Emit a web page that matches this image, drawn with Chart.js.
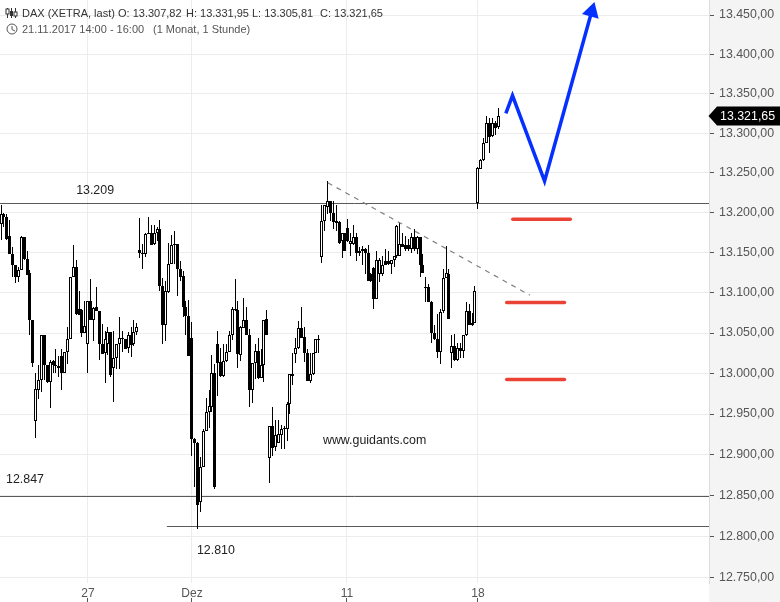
<!DOCTYPE html>
<html><head><meta charset="utf-8">
<style>html,body{margin:0;padding:0;background:#fff}#w{position:relative;width:780px;height:602px}</style>
<script src="https://cdn.jsdelivr.net/npm/chart.js@4/dist/chart.umd.min.js"></script>
</head><body><div id="w"><canvas id="c" width="780" height="602"></canvas></div>
<script>
const open=[13186,13198,13195,13171,13148,13135,13119,13128,13170,13142,13125,13066,12942,12980,12992,13047,13010,12990,13015,13011,13007,13022,13000,13027,13042,13120,13132,13080,13078,13050,13036,13090,13066,13082,13077,13037,13025,13036,13051,13007,13019,13037,13044,13042,13031,13048,13036,13051,
13153,13148,13148,13175,13175,13161,13175,13180,13108,13060,13101,13136,13159,13161,13130,13121,13082,13071,13044,12919,12915,12842,12885,12929,12952,12959,13000,13037,13014,12997,13015,13027,13047,13080,13078,13023,13056,13066,13047,12980,13013,13028,12994,13011,13067,
12896,12935,12909,12915,12924,12932,12932,12962,12999,13024,13032,13056,13045,13025,12991,12999,13025,13042,13145,13190,13207,13215,13200,13189,13188,13164,13175,13181,13161,13161,13170,13150,13152,13155,13150,13123,13131,13092,13123,13123,13139,13140,13136,13141,13146,
13146,13161,13160,13159,13154,13169,13154,13170,13135,13107,13107,13089,13050,13042,13027,13077,13118,13123,13025,13034,13016,13032,13028,13047,13077,13060,13062,13212,13255,13266,13287,13313,13296,13313,13307.82];
const high=[13209,13199,13198,13191,13157,13135,13132,13171,13170,13152,13128,13066,13001,13010,13048,13047,13011,13017,13017,13030,13021,13030,13027,13057,13120,13160,13141,13102,13080,13090,13090,13117,13082,13107,13077,13061,13052,13057,13051,13052,13037,13070,13052,13043,13051,13057,13066,13062,
13193,13161,13175,13195,13185,13184,13182,13191,13118,13114,13162,13172,13177,13161,13140,13127,13090,13091,13064,12921,12916,12897,12931,12970,12980,13023,13012,13052,13032,13036,13036,13053,13082,13117,13090,13059,13093,13082,13055,13013,13036,13044,13030,13066,13079,
12935,12959,12943,12943,12937,12935,12965,12999,13025,13044,13065,13082,13057,13030,13025,13025,13043,13048,13209,13209,13240,13215,13215,13209,13189,13175,13175,13192,13175,13184,13175,13157,13158,13156,13159,13125,13132,13152,13143,13146,13155,13152,13141,13146,13184,
13188,13175,13171,13167,13174,13180,13171,13170,13148,13120,13111,13090,13060,13073,13080,13130,13158,13130,13047,13049,13038,13038,13048,13089,13086,13075,13108,13257,13267,13294,13322,13319,13319,13315,13331.95];
const low=[13166,13182,13166,13148,13119,13112,13113,13128,13141,13122,13048,13008,12921,12968,12977,12992,12988,12958,13001,13000,12995,12980,13000,13012,13042,13120,13072,13073,13045,13050,13001,13066,13040,13077,13017,13024,12988,13023,12996,12965,13005,13005,13027,13030,13025,13020,13034,13047,
13143,13130,13144,13173,13159,13160,13165,13102,13037,13040,13100,13136,13136,13096,13115,13070,13047,13021,12898,12860,12810,12830,12885,12929,12933,12953,12858,12972,12996,12996,13014,13027,13041,13077,13007,13015,13056,13047,12959,12964,12993,12993,12994,12990,13047,
12865,12899,12905,12915,12907,12907,12917,12950,12986,13013,13030,13044,13014,12991,12988,12998,13025,13025,13137,13177,13198,13190,13180,13177,13161,13143,13152,13163,13146,13159,13140,13146,13134,13123,13114,13113,13080,13092,13113,13121,13134,13134,13123,13132,13143,
13146,13157,13152,13152,13150,13152,13148,13120,13124,13088,13090,13038,13041,13019,13012,13075,13118,13067,13007,13015,13015,13019,13019,13046,13060,13059,13062,13205,13255,13265,13287,13275,13295,13298,13305.81];
const close=[13198,13194,13167,13148,13135,13119,13128,13170,13142,13122,13066,13013,12981,12992,13047,13011,12989,13014,13010,13009,13009,13000,13027,13042,13119,13132,13073,13072,13050,13059,13090,13066,13081,13077,13037,13024,13042,13051,12998,13019,13037,13044,13042,13030,13048,13035,13051,13058,
13149,13150,13173,13173,13160,13175,13180,13108,13060,13102,13136,13160,13161,13130,13120,13082,13071,13021,12919,12915,12839,12885,12929,12952,12960,13000,12860,13013,12997,13015,13027,13047,13080,13079,13024,13057,13066,13047,12980,13013,13028,12994,13011,13066,13047,
12935,12908,12924,12925,12932,12933,12962,12999,12997,13032,13056,13044,13025,12991,12999,13025,13043,13043,13190,13209,13215,13200,13188,13187,13162,13175,13152,13164,13164,13170,13150,13152,13155,13150,13114,13114,13092,13141,13141,13134,13134,13136,13141,13146,13183,
13161,13157,13155,13154,13169,13154,13170,13135,13125,13106,13089,13050,13042,13027,13076,13118,13124,13067,13034,13016,13032,13028,13047,13077,13060,13062,13102,13256,13266,13287,13313,13295,13313,13306,13321.65];

const yTicks=[13450,13400,13350,13300,13250,13200,13150,13100,13050,13000,12950,12900,12850,12800,12750];
const xTickIdx=[30.1,66.09,119.72,165.05];
const xTickLabels=['27','Dez','11','18'];
const levelA=[[-0.35,13211],[245,13211]];
const levelB=[[-0.35,12849],[245,12849]];
const levelC=[[57.4,12812],[245,12812]];
const trendLine=[[113.1,13237.5],[183,13097]];
const arrowPath=[[174.7,13325],[177,13347.6],[188.1,13239.7],[204.4,13454.5]];
const redA=[[177.1,13191.6],[197,13191.6]];
const redB=[[175,13088],[195,13088]];
const redC=[[175,12992.6],[195,12992.6]];
const noteTexts=['13.209','12.847','12.810','www.guidants.com'];
const noteIdx=[26,1.73,67.8,111.4];
const notePrice=[13227.5,12869.5,12783,12918];
const lastPrice=13321.65;
const lastLabel='13.321,65';
const headA=['DAX (XETRA, last)','O: 13.307,82','H: 13.331,95','L: 13.305,81','C: 13.321,65'];
const headB=['21.11.2017 14:00 - 16:00','(1 Monat, 1 Stunde)'];

const FONT='"Liberation Sans", Arial, sans-serif';
const xy=a=>a.map(p=>({x:p[0],y:p[1]}));
const fmt=v=>{const s=String(Math.round(v));return s.slice(0,2)+'.'+s.slice(2)+',00';};
const flat=(d,col,w,extra)=>Object.assign({type:'line',data:xy(d),borderColor:col,borderWidth:w,pointRadius:0,fill:false,tension:0,order:1},extra||{});
const noPad=s=>{s.paddingTop=0;s.paddingBottom=0;s.paddingLeft=0;s.paddingRight=0;};

const snapPlugin={id:'snap',afterDatasetsUpdate(ch){
  ch.data.datasets.forEach((ds,i)=>{
    const m=ch.getDatasetMeta(i);
    if(ds.snapBars){m.data.forEach(el=>{
      el.x=Math.floor(el.x)+0.5;
      let a=Math.round(el.y),b=Math.round(el.base);
      if(a===b){b=a+1;}
      el.y=a;el.base=b;el.height=b-a;
    });}
    if(ds.snapLine){m.data.forEach(el=>{el.y=Math.floor(el.y)+0.5;});}
  });
}};
const bgPlugin={id:'bg',beforeDraw(ch){
  const c=ch.ctx,a=ch.chartArea;
  c.save();c.fillStyle='#f4f4f4';c.fillRect(a.right,0,780-a.right,602);c.restore();
}};
const textPlugin={id:'txt',afterDraw(ch){
  const c=ch.ctx,x=ch.scales.x,y=ch.scales.y,a=ch.chartArea;
  c.save();
  c.textBaseline='middle';c.font='12.4px '+FONT;
  c.fillStyle='#222';c.textAlign='left';
  noteTexts.forEach((t,i)=>c.fillText(t,x.getPixelForValue(noteIdx[i]),y.getPixelForValue(notePrice[i])));
  // header
  c.font='11px '+FONT;
  c.fillStyle='#333';
  const hx=[22,118,186,252,320];
  headA.forEach((t,i)=>c.fillText(t,hx[i],13.5));
  c.fillStyle='#555';
  c.fillText(headB[0],22,29.5);c.fillText(headB[1],153,29.5);
  // header icons
  c.strokeStyle='#333';c.fillStyle='#333';c.lineWidth=1;
  [[7.5,8,18,9,14,0],[11.5,8,18,11,16,1],[15.5,8,18,12,16,0]].forEach(k=>{
    c.beginPath();c.moveTo(k[0],k[1]);c.lineTo(k[0],k[2]);c.stroke();
    if(k[5]){c.fillRect(k[0]-1.5,k[3],3,k[4]-k[3]);}
    else{c.fillStyle='#fff';c.fillRect(k[0]-1.5,k[3],3,k[4]-k[3]);c.strokeRect(k[0]-1.5,k[3],3,k[4]-k[3]);c.fillStyle='#333';}
  });
  c.strokeStyle='#555';
  c.beginPath();c.arc(12,29,5,0,Math.PI*2);c.stroke();
  c.beginPath();c.moveTo(12,26);c.lineTo(12,29.5);c.lineTo(15,31);c.stroke();
  // bottom ticks on time axis
  c.strokeStyle='#555';
  xTickIdx.forEach(v=>{const px=Math.floor(x.getPixelForValue(v))+0.5;c.beginPath();c.moveTo(px,598);c.lineTo(px,602);c.stroke();});
  // last price marker
  const py=Math.round(y.getPixelForValue(lastPrice));
  c.font='12.4px '+FONT;
  c.fillStyle='#000';c.beginPath();
  c.moveTo(a.right-0.5,py);c.lineTo(a.right+8,py-9.5);c.lineTo(780,py-9.5);c.lineTo(780,py+9.5);c.lineTo(a.right+8,py+9.5);c.closePath();c.fill();
  c.fillStyle='#fff';c.fillText(lastLabel,720,py+0.5);
  c.restore();
}};

const idx=open.map((_,i)=>i);
const cfg={
 type:'bar',
 data:{datasets:[
  flat(arrowPath,'#0530ff',3.5,{order:1,pointRadius:[0,0,0,10],pointStyle:'triangle',pointRotation:16,pointBackgroundColor:'#0530ff',pointBorderColor:'#0530ff',pointBorderWidth:0,borderJoinStyle:'miter'}),
  flat(redA,'#ea4335',3.5,{borderCapStyle:'round'}),
  flat(redB,'#ea4335',3.5,{borderCapStyle:'round'}),
  flat(redC,'#ea4335',3.5,{borderCapStyle:'round'}),
  flat(trendLine,'#808080',1.2,{borderDash:[5,5]}),
  flat(levelA,'#5a5a5a',1,{snapLine:true,order:4}),
  flat(levelB,'#5a5a5a',1,{snapLine:true,order:4}),
  flat(levelC,'#5a5a5a',1,{snapLine:true,order:4}),
  {type:'bar',snapBars:true,order:2,data:idx.map(i=>({x:i,y:[open[i],close[i]]})),
   backgroundColor:idx.map(i=>close[i]>=open[i]?'#ffffff':'#000000'),
   borderColor:'#000000',borderWidth:1,borderSkipped:false,inflateAmount:0,barThickness:3,grouped:false},
  {type:'bar',snapBars:true,order:3,data:idx.map(i=>({x:i,y:[low[i],high[i]]})),
   backgroundColor:'#000000',borderWidth:0,borderSkipped:false,inflateAmount:0,barThickness:1,grouped:false}
 ]},
 options:{
  responsive:false,animation:false,events:[],
  layout:{padding:0,autoPadding:false},
  plugins:{legend:{display:false},tooltip:{enabled:false},title:{display:false}},
  scales:{
   x:{type:'linear',offset:false,min:-0.35,max:245,
      grid:{color:'#ececec',drawTicks:false,offset:false},
      border:{display:false},
      afterFit(s){s.height=19;noPad(s);},
      afterBuildTicks(s){s.ticks=xTickIdx.map(v=>({value:v}));},
      ticks:{autoSkip:false,maxRotation:0,padding:3,color:'#555',font:{family:FONT,size:12},
        callback(v){const k=xTickIdx.indexOf(v);return k>=0?xTickLabels[k]:'';}}},
   y:{type:'logarithmic',position:'right',min:12743.9,max:13469.2,
      grid:{color:'#ececec',tickColor:'#555',tickLength:5},
      border:{display:true,color:'#dcdcdc'},
      afterFit(s){s.width=71;noPad(s);},
      afterBuildTicks(s){s.ticks=yTicks.map(v=>({value:v}));},
      ticks:{autoSkip:false,padding:5,color:'#555',font:{family:FONT,size:12.4},callback:v=>fmt(v)}}
  }
 },
 plugins:[snapPlugin,bgPlugin,textPlugin]
};
new Chart(document.getElementById('c'),cfg);
</script></body></html>
